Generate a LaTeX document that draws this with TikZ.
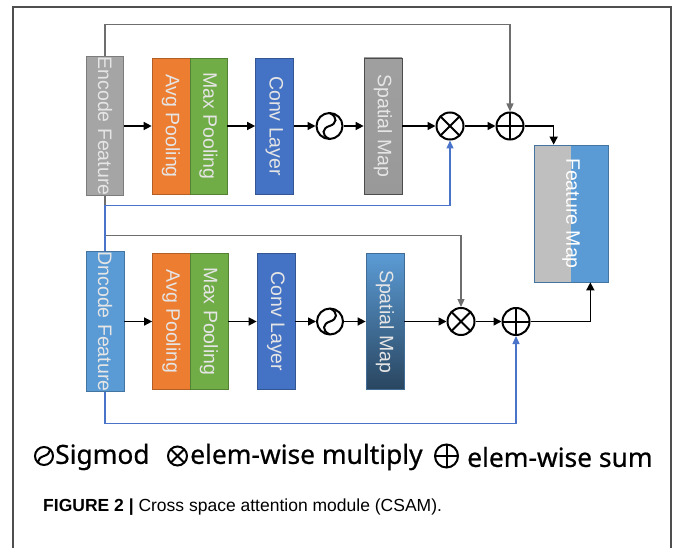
\documentclass[tikz,border=0pt]{standalone}
\usepackage{fontspec}
\setmainfont{Liberation Sans}
\newfontfamily\legendfont[FakeBold=0.6]{Noto Sans}
\usetikzlibrary{arrows.meta}

\definecolor{encgray}{HTML}{A5A5A5}
\definecolor{poolorange}{HTML}{ED7D31}
\definecolor{poolgreen}{HTML}{70AD47}
\definecolor{convblue}{HTML}{4472C4}
\definecolor{decblue}{HTML}{5B9BD5}
\definecolor{mapgray}{HTML}{BFBFBF}
\definecolor{linegray}{HTML}{6E6E6E}
\definecolor{lineblue}{HTML}{4A74C9}
\definecolor{framegray}{HTML}{4F4F4F}

\tikzset{
  block/.style={rectangle, draw=#1!75!black, fill=#1, line width=0.7pt, minimum width=37pt, minimum height=136pt, inner sep=0pt, text=white!90!black, font=\fontsize{19.5}{20}\selectfont},
  op/.style={circle, draw, line width=2pt, minimum size=#1, inner sep=0pt},
  mulop/.style={op=#1, path picture={\draw[line width=2pt] (path picture bounding box.north west) -- (path picture bounding box.south east) (path picture bounding box.north east) -- (path picture bounding box.south west);}},
  addop/.style={op=#1, path picture={\draw[line width=2pt] (path picture bounding box.north) -- (path picture bounding box.south) (path picture bounding box.east) -- (path picture bounding box.west);}},
  sigop/.style={op=#1, path picture={\draw[line width=2pt, shift={(path picture bounding box.center)}, scale=#1/25] (0,-13) .. controls (9,-9) and (7,-2) .. (0,0) .. controls (-7,2) and (-9,9) .. (0,13);}},
  arr/.style={line width=1.5pt, -{Triangle[length=8pt,width=8pt]}},
  grayarr/.style={linegray, line width=1.2pt, -{Triangle[length=8pt,width=7pt]}},
  bluearr/.style={lineblue, line width=1.2pt, -{Triangle[length=8pt,width=7pt]}},
  legend/.style={anchor=west, inner sep=0pt, font=\legendfont\fontsize{26.4}{28}\selectfont}
}

\begin{document}
\begin{tikzpicture}[x=1pt,y=-1pt]

\useasboundingbox (0,0) rectangle (677,548);
\draw[framegray, line width=1.3pt] (13,548) -- (13,7) -- (671,7) -- (671,548);

\node[block=encgray] (enc) at (105,126) {\rotatebox{-90}{Encode Feature}};
\node[block=poolorange, minimum width=38pt] (avg1) at (171,126) {\rotatebox{-90}{Avg Pooling}};
\node[block=poolgreen] (max1) at (208.5,126) {\rotatebox{-90}{Max Pooling}};
\node[block=convblue, minimum width=38pt] (conv1) at (274.5,126) {\rotatebox{-90}{Conv Layer}};
\node[sigop=26] (sig1) at (329.5,126) {};
\node[block=gray, minimum width=38pt, top color=gray!75, bottom color=gray!120!black, draw=gray!60!black] (spat1) at (383,126) {\rotatebox{-90}{Spatial Map}};
\node[mulop=27] (mul1) at (450,126) {};
\node[addop=27] (add1) at (510,126) {};

\node[block=decblue, minimum width=38pt] (dec) at (105,321.5) {\rotatebox{-90}{Dncode Feature}};
\node[block=poolorange, minimum width=38pt] (avg2) at (171.5,321.5) {\rotatebox{-90}{Avg Pooling}};
\node[block=poolgreen, minimum width=38pt] (max2) at (209,321.5) {\rotatebox{-90}{Max Pooling}};
\node[block=convblue, minimum width=38pt] (conv2) at (276,321.5) {\rotatebox{-90}{Conv Layer}};
\node[sigop=26] (sig2) at (330,321.5) {};
\node[block=decblue, minimum width=38pt, top color=decblue, bottom color=decblue!45!black, draw=decblue!70!black] (spat2) at (385,321.5) {\rotatebox{-90}{Spatial Map}};
\node[mulop=27] (mul2) at (461,321.5) {};
\node[addop=27] (add2) at (516,321.5) {};

\node[block=decblue, minimum width=74pt, minimum height=137pt, text=white, path picture={\fill[mapgray] (path picture bounding box.north west) rectangle (path picture bounding box.south);}] (fmap) at (571,213.5) {\rotatebox{-90}{Feature Map}};

\draw[arr] (enc) -- (avg1);
\draw[arr] (max1) -- (conv1);
\draw[arr] (conv1) -- (sig1);
\draw[arr] (sig1) -- (spat1);
\draw[arr] (spat1) -- (mul1);
\draw[arr] (mul1) -- (add1);
\draw[arr] (add1) -| ([xshift=20pt]fmap.north west);

\draw[arr] (dec) -- (avg2);
\draw[arr] (max2) -- (conv2);
\draw[arr] (conv2) -- (sig2);
\draw[arr] (sig2) -- (spat2);
\draw[arr] (spat2) -- (mul2);
\draw[arr] (mul2) -- (add2);
\draw[arr] (add2) -| ([xshift=-18pt]fmap.south east);

\draw[grayarr] (enc.north) -- ++(0,-32) -| (add1);
\draw[grayarr] (enc.south) -- ++(0,40) -| (mul2);
\draw[bluearr] (dec.north) -- ++(0,-46) -| (mul1);
\draw[bluearr] (dec.south) -- ++(0,32) -| (add2);

\node[sigop=18] (lsig) at (44,456) {};
\node[legend] (lsigtxt) at (55,457) {Sigmod};
\node[mulop=19] (lmul) at (177.5,456) {};
\node[legend] (lmultxt) at (190,457) {elem-wise multiply};
\node[addop=23] (ladd) at (446.5,456) {};
\node[legend] (laddtxt) at (467,457) {elem-wise sum};

\node[anchor=west, inner sep=0pt, font=\fontsize{17.5}{20}\selectfont] (caption) at (43,507) {\textbf{FIGURE 2 |} Cross space attention module (CSAM).};
\end{tikzpicture}
\end{document}
